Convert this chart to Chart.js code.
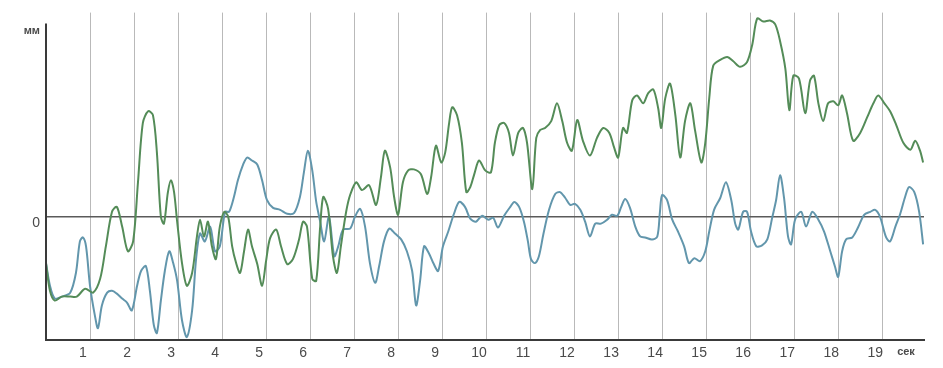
<!DOCTYPE html>
<html>
<head>
<meta charset="utf-8">
<script src="https://cdn.jsdelivr.net/npm/chart.js@4.4.1/dist/chart.umd.min.js"></script>
<style>
  html, body { margin: 0; padding: 0; background: #fff; }
  #wrap { width: 943px; height: 368px; position: relative; }
</style>
</head>
<body>
<div id="wrap"><canvas id="traceChart"></canvas></div>
<script>
// time axis ticks (seconds)
const secTicks = [1, 2, 3, 4, 5, 6, 7, 8, 9, 10, 11, 12, 13, 14, 15, 16, 17, 18, 19];
const secUnitAt = 19.7;
const mmUnitAt = 19.4;

// green trace: time (s) and displacement (mm)
const greenT = [0.00, 0.09, 0.20, 0.36, 0.55, 0.70, 0.89, 1.07, 1.23, 1.36, 1.50, 1.61, 1.73, 1.86, 1.98, 2.09, 2.20, 2.32, 2.43, 2.52,
  2.61, 2.68, 2.77, 2.84, 2.91, 2.98, 3.09, 3.20, 3.32, 3.43, 3.50, 3.59, 3.68, 3.77, 3.86, 3.95, 4.05, 4.14, 4.23, 4.32,
  4.41, 4.50, 4.59, 4.68, 4.80, 4.91, 5.00, 5.09, 5.23, 5.34, 5.48, 5.61, 5.75, 5.84, 5.93, 6.05, 6.14, 6.23, 6.30, 6.41,
  6.52, 6.61, 6.70, 6.82, 6.91, 7.05, 7.18, 7.34, 7.50, 7.61, 7.70, 7.82, 7.91, 8.00, 8.11, 8.23, 8.36, 8.52, 8.66, 8.75,
  8.86, 8.98, 9.07, 9.16, 9.23, 9.34, 9.45, 9.55, 9.64, 9.73, 9.84, 9.98, 10.11, 10.20, 10.30, 10.41, 10.52, 10.61, 10.73, 10.84,
  10.93, 11.05, 11.14, 11.23, 11.34, 11.48, 11.61, 11.73, 11.84, 11.95, 12.07, 12.20, 12.36, 12.52, 12.66, 12.80, 12.91, 13.00, 13.11, 13.20,
  13.32, 13.43, 13.57, 13.68, 13.80, 13.91, 13.98, 14.07, 14.18, 14.30, 14.41, 14.52, 14.64, 14.75, 14.89, 14.98, 15.07, 15.16, 15.32, 15.48,
  15.61, 15.77, 15.93, 16.05, 16.16, 16.30, 16.45, 16.57, 16.68, 16.80, 16.89, 16.98, 17.11, 17.25, 17.36, 17.45, 17.55, 17.66, 17.77, 17.89,
  18.00, 18.09, 18.20, 18.34, 18.50, 18.66, 18.80, 18.91, 19.05, 19.18, 19.32, 19.48, 19.64, 19.75, 19.86, 19.93];
const greenV = [-4.7, -7.5, -8.5, -8.1, -8.1, -8.1, -7.3, -7.7, -6.3, -3.0, 0.5, 1.0, -1.0, -3.5, -2.5, 3.5, 9.5, 10.7, 10.3, 6.5,
  0.0, -0.7, 2.5, 3.7, 2.5, -0.5, -4.7, -7.0, -5.7, -2.0, -0.3, -2.0, -0.5, -3.0, -4.3, -1.0, 0.5, 0.0, -3.0, -4.7,
  -5.7, -3.5, -1.3, -3.0, -4.8, -7.0, -4.5, -2.2, -1.3, -3.0, -4.8, -4.3, -2.3, -0.5, -1.0, -6.3, -6.5, -1.0, 2.0, 0.8,
  -4.0, -5.7, -3.0, 0.5, 2.2, 3.5, 2.7, 3.2, 1.2, 4.0, 6.7, 5.0, 2.0, 0.2, 3.5, 4.7, 4.8, 4.3, 2.3, 4.0,
  7.2, 5.5, 6.5, 9.5, 11.1, 10.3, 7.5, 2.5, 3.0, 4.3, 5.7, 4.7, 4.5, 7.5, 9.3, 9.5, 8.5, 6.2, 8.5, 9.0,
  7.5, 2.8, 8.0, 8.8, 9.0, 9.7, 11.5, 9.7, 7.5, 6.7, 9.8, 7.7, 6.2, 8.0, 9.0, 8.5, 7.0, 6.0, 9.0, 8.5,
  11.8, 12.3, 11.5, 12.5, 12.9, 11.0, 9.0, 12.0, 13.5, 10.3, 6.0, 9.7, 11.5, 8.7, 5.5, 7.5, 12.0, 15.3, 15.9, 16.2,
  15.8, 15.2, 15.7, 17.5, 20.1, 19.8, 19.9, 19.5, 17.8, 15.0, 10.8, 14.3, 14.0, 10.5, 13.8, 14.3, 11.5, 9.7, 11.5, 11.7,
  11.3, 12.3, 10.5, 7.7, 8.5, 10.1, 11.5, 12.3, 11.5, 10.7, 9.3, 7.5, 6.8, 7.7, 6.7, 5.5];

// blue trace: time (s) and displacement (mm)
const blueT = [0.00, 0.09, 0.20, 0.36, 0.55, 0.68, 0.77, 0.84, 0.91, 1.00, 1.11, 1.18, 1.27, 1.39, 1.50, 1.61, 1.73, 1.84, 1.95, 2.07,
  2.16, 2.27, 2.36, 2.45, 2.52, 2.61, 2.70, 2.80, 2.89, 2.98, 3.09, 3.20, 3.32, 3.41, 3.50, 3.61, 3.73, 3.84, 3.95, 4.07,
  4.16, 4.27, 4.36, 4.48, 4.57, 4.68, 4.80, 4.91, 5.02, 5.16, 5.32, 5.48, 5.64, 5.77, 5.86, 5.95, 6.05, 6.14, 6.23, 6.32,
  6.43, 6.55, 6.64, 6.75, 6.91, 7.02, 7.14, 7.25, 7.36, 7.48, 7.57, 7.68, 7.80, 7.93, 8.07, 8.20, 8.32, 8.41, 8.50, 8.59,
  8.70, 8.80, 8.91, 9.02, 9.14, 9.27, 9.39, 9.52, 9.64, 9.77, 9.91, 10.05, 10.16, 10.27, 10.41, 10.55, 10.64, 10.75, 10.86, 10.95,
  11.02, 11.11, 11.20, 11.30, 11.43, 11.57, 11.68, 11.80, 11.91, 12.02, 12.14, 12.25, 12.36, 12.48, 12.61, 12.75, 12.86, 12.98, 13.07, 13.16,
  13.27, 13.39, 13.50, 13.61, 13.77, 13.89, 13.95, 14.00, 14.11, 14.23, 14.36, 14.50, 14.61, 14.73, 14.86, 14.98, 15.07, 15.18, 15.32, 15.45,
  15.57, 15.66, 15.73, 15.84, 15.93, 16.02, 16.14, 16.27, 16.39, 16.50, 16.59, 16.68, 16.77, 16.86, 16.93, 17.02, 17.16, 17.27, 17.41, 17.55,
  17.68, 17.82, 17.93, 18.00, 18.09, 18.18, 18.32, 18.45, 18.59, 18.73, 18.84, 18.95, 19.09, 19.18, 19.30, 19.41, 19.52, 19.61, 19.73, 19.84, 19.93];
const blueV = [-4.7, -7.0, -8.3, -8.1, -7.7, -5.7, -2.5, -2.1, -3.0, -7.0, -10.0, -11.3, -9.0, -7.7, -7.5, -7.8, -8.3, -8.7, -9.5, -7.0,
  -5.5, -5.0, -7.5, -11.0, -11.8, -8.5, -5.5, -3.5, -4.7, -6.5, -10.5, -12.2, -9.5, -4.3, -1.7, -2.5, -1.0, -3.5, -3.0, 0.5,
  0.5, 2.0, 3.7, 5.3, 6.0, 5.7, 5.3, 3.7, 1.7, 0.9, 0.7, 0.3, 0.4, 2.0, 4.5, 6.7, 4.7, 1.5, -0.5, -2.5,
  0.0, -4.0, -3.0, -1.3, -1.2, 0.0, 0.8, -1.0, -4.7, -6.7, -5.0, -2.5, -1.2, -1.7, -2.3, -3.5, -5.5, -9.0, -6.5, -3.0,
  -3.7, -4.7, -5.5, -3.0, -1.5, 0.3, 1.5, 1.0, -0.2, -0.5, 0.1, -0.3, -0.1, -1.1, 0.1, 1.0, 1.5, 1.0, -0.5, -2.5,
  -4.3, -4.7, -4.0, -1.8, 0.7, 2.3, 2.5, 1.9, 1.2, 1.3, 0.7, -0.5, -2.0, -0.7, -0.7, -0.3, 0.2, 0.1, 1.0, 1.8,
  0.9, -1.0, -2.0, -2.1, -2.3, -2.0, 0.5, 2.2, 1.7, -0.3, -1.5, -3.0, -4.7, -4.2, -4.5, -3.5, -1.5, 0.7, 1.9, 3.5,
  1.7, -0.7, -1.3, 0.5, 0.5, -1.5, -3.0, -2.9, -2.3, -0.1, 1.7, 4.2, 1.9, -2.0, -2.8, -0.3, 0.5, -1.0, 0.5, -0.3,
  -1.5, -3.5, -5.1, -6.1, -3.5, -2.3, -2.1, -1.1, 0.2, 0.5, 0.7, 0.0, -2.1, -2.5, -1.0, 0.3, 2.0, 3.0, 2.5, 0.5, -2.8];

function toPoints(ts, vs) {
  return ts.map((t, i) => ({ x: t, y: vs[i] }));
}

const labelFont = { family: "'Liberation Sans Narrow', 'Liberation Sans', sans-serif", size: 14 };

// left axis only starts under the "мм" label, like on the original recording
const leftAxisLine = {
  id: 'leftAxisLine',
  afterDraw(chart) {
    const { ctx, chartArea, scales } = chart;
    const top = scales.y.getPixelForValue(mmUnitAt) - 2;
    ctx.save();
    ctx.strokeStyle = '#3a3a3a';
    ctx.lineWidth = 2;
    ctx.beginPath();
    ctx.moveTo(chartArea.left, top);
    ctx.lineTo(chartArea.left, chartArea.bottom);
    ctx.stroke();
    ctx.restore();
  },
};

const ctx = document.getElementById('traceChart').getContext('2d');
new Chart(ctx, {
  type: 'line',
  data: {
    datasets: [
      {
        label: 'green',
        data: toPoints(greenT, greenV),
        borderColor: 'rgba(84, 140, 88, 1)',
        borderWidth: 2,
        pointRadius: 0,
        tension: 0.3,
        fill: false,
      },
      {
        label: 'blue',
        data: toPoints(blueT, blueV),
        borderColor: 'rgba(98, 150, 172, 1)',
        borderWidth: 2,
        pointRadius: 0,
        tension: 0.3,
        fill: false,
      },
    ],
  },
  plugins: [leftAxisLine],
  options: {
    responsive: true,
    maintainAspectRatio: false,
    animation: false,
    layout: { padding: { top: 0, right: 19, bottom: 0, left: 0 } },
    plugins: {
      legend: { display: false },
      tooltip: { enabled: false },
    },
    scales: {
      x: {
        type: 'linear',
        min: 0,
        max: 19.95,
        afterFit: (s) => { s.height = 28; },
        afterBuildTicks: (s) => {
          s.ticks = secTicks.concat([secUnitAt]).map((v) => ({ value: v }));
        },
        border: { color: '#3a3a3a', width: 2 },
        grid: {
          drawTicks: false,
          color: (c) => (c.tick && c.tick.value === secUnitAt ? 'rgba(0,0,0,0)' : '#b9b9b9'),
          lineWidth: 1,
        },
        ticks: {
          autoSkip: false,
          maxRotation: 0,
          padding: 5,
          labelOffset: -7,
          color: '#4a4a4a',
          font: (c) => (c.tick && c.tick.value === secUnitAt
            ? { family: labelFont.family, size: 11, weight: 'bold' }
            : labelFont),
          callback: (v) => (v === secUnitAt ? 'сек' : String(v)),
        },
      },
      y: {
        type: 'linear',
        min: -12.5,
        max: 20.7,
        afterFit: (s) => { s.width = 46; },
        afterBuildTicks: (s) => {
          s.ticks = [{ value: 0 }, { value: mmUnitAt }];
        },
        border: { display: false },
        grid: {
          drawTicks: false,
          color: (c) => (c.tick && c.tick.value === 0 ? '#5a5a5a' : 'rgba(0,0,0,0)'),
          lineWidth: 1.5,
        },
        ticks: {
          padding: 6,
          labelOffset: 6,
          color: '#4a4a4a',
          font: (c) => (c.tick && c.tick.value === mmUnitAt
            ? { family: labelFont.family, size: 11, weight: 'bold' }
            : labelFont),
          callback: (v) => (v === mmUnitAt ? 'мм' : String(v)),
        },
      },
    },
  },
});
</script>
</body>
</html>
